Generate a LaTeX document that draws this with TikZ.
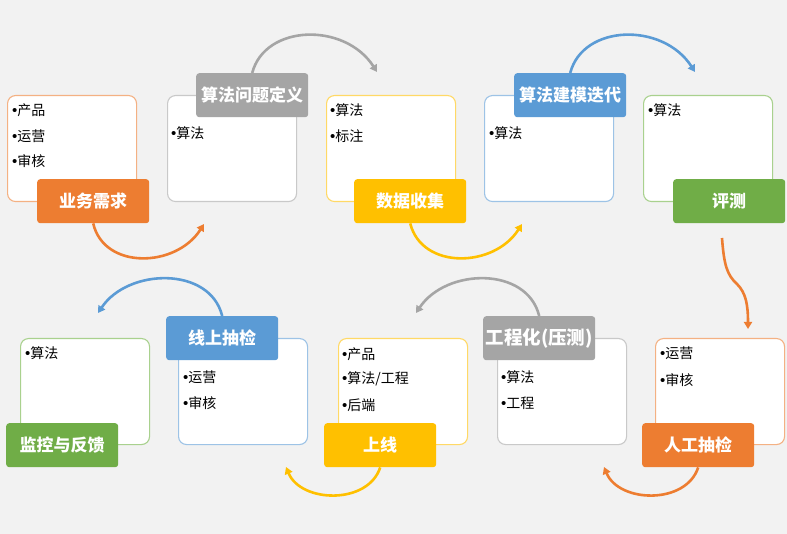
\documentclass[tikz,border=0pt]{standalone}
\usepackage{fontspec}
\setmainfont{Noto Sans CJK SC}
\newfontfamily\bul{Liberation Sans}
\usetikzlibrary{arrows.meta}
\definecolor{bg}{HTML}{F2F2F2}
\definecolor{cor}{HTML}{ED7D31}
\definecolor{cgr}{HTML}{A5A5A5}
\definecolor{cye}{HTML}{FFC000}
\definecolor{cbl}{HTML}{5B9BD5}
\definecolor{cgn}{HTML}{70AD47}
\definecolor{lor}{HTML}{F4B183}
\definecolor{lgr}{HTML}{C9C9C9}
\definecolor{lye}{HTML}{FFD966}
\definecolor{lbl}{HTML}{9DC3E6}
\definecolor{lgn}{HTML}{A9D18E}
\newcommand{\bt}{{\bul\fontsize{15}{15}\selectfont •}}
\tikzset{
  wbox/.style={draw=#1, line width=1.1pt, fill=white, rounded corners=8pt, minimum width=129pt, minimum height=106pt, anchor=north west, inner sep=0pt},
  lab/.style={fill=#1, rounded corners=3pt, minimum width=112pt, minimum height=44pt, anchor=north west, inner sep=0pt, text=white, font=\fontsize{17}{17}\selectfont\bfseries},
  item/.style={anchor=base west, inner sep=0pt, font=\fontsize{14}{14}\selectfont},
  arr/.style={draw=#1, line width=2.6pt, -{Triangle[length=7pt,width=8pt]}}
}
\begin{document}
\begin{tikzpicture}[x=1pt,y=-1pt]
\fill[bg] (0,0) rectangle (787,534);
\useasboundingbox (0,0) rectangle (787,534);
% top row boxes
\node[wbox=lor] (b1) at (7,95) {};
\node[wbox=lgr] (b2) at (167,95) {};
\node[wbox=lye] (b3) at (326,95) {};
\node[wbox=lbl] (b4) at (484,95) {};
\node[wbox=lgn] (b5) at (643,95) {};
% bottom row boxes
\node[wbox=lgn] (b10) at (20,338) {};
\node[wbox=lbl] (b9) at (178,338) {};
\node[wbox=lye] (b8) at (338,338) {};
\node[wbox=lgr] (b7) at (497,338) {};
\node[wbox=lor] (b6) at (655,338) {};
% items
\node[item] (t1a) at (12,116) {\bt 产品};
\node[item] (t1b) at (12,142) {\bt 运营};
\node[item] (t1c) at (12,167) {\bt 审核};
\node[item] (t2a) at (171,139) {\bt 算法};
\node[item] (t3a) at (330,116) {\bt 算法};
\node[item] (t3b) at (330,142) {\bt 标注};
\node[item] (t4a) at (489,139) {\bt 算法};
\node[item] (t5a) at (648,116) {\bt 算法};
\node[item] (t10a) at (25,359) {\bt 算法};
\node[item] (t9a) at (183,382) {\bt 运营};
\node[item] (t9b) at (183,408) {\bt 审核};
\node[item] (t8a) at (342,360) {\bt 产品};
\node[item] (t8b) at (342,384) {\bt 算法/工程};
\node[item] (t8c) at (342,410) {\bt 后端};
\node[item] (t7a) at (501,382) {\bt 算法};
\node[item] (t7b) at (501,408) {\bt 工程};
\node[item] (t6a) at (660,359) {\bt 运营};
\node[item] (t6b) at (660,385) {\bt 审核};
% labels
\node[lab=cor] (l1) at (37,179) {业务需求};
\node[lab=cgr] (l2) at (196,73) {算法问题定义};
\node[lab=cye] (l3) at (354,179) {数据收集};
\node[lab=cbl] (l4) at (514,73) {算法建模迭代};
\node[lab=cgn] (l5) at (673,179) {评测};
\node[lab=cor] (l6) at (642,423) {人工抽检};
\node[lab=cgr, font=\fontsize{18.5}{18.5}\selectfont\bfseries] (l7) at (483,316) {工程化(压测)};
\node[lab=cye] (l8) at (324,423) {上线};
\node[lab=cbl] (l9) at (166,316) {线上抽检};
\node[lab=cgn] (l10) at (6,423) {监控与反馈};
% arrow end points
\coordinate (e1) at (204,224);
\coordinate (e2) at (377,72);
\coordinate (e3) at (522,224);
\coordinate (e4) at (695,72);
\coordinate (s5) at (722,238);
\coordinate (e5) at (748,329);
\coordinate (e6) at (604,467);
\coordinate (e7) at (416,313);
\coordinate (e8) at (286,467);
\coordinate (e9) at (98,313);
% arrows
\draw[arr=cor] (l1.south) .. controls (104,270) and (176,268) .. (e1);
\draw[arr=cgr] (l2.north) .. controls (265,24) and (345,22) .. (e2);
\draw[arr=cye] (l3.south) .. controls (422,270) and (494,268) .. (e3);
\draw[arr=cbl] (l4.north) .. controls (583,24) and (663,22) .. (e4);
\draw[arr=cor] (s5) .. controls (724,265) and (727,275) .. (737,284) .. controls (746,293) and (748,305) .. (e5);
\draw[arr=cor] (l6.south) .. controls (686,505) and (619,503) .. (e6);
\draw[arr=cgr] (l7.north) .. controls (527,266) and (446,268) .. (e7);
\draw[arr=cye] (l8.south) .. controls (368,505) and (301,503) .. (e8);
\draw[arr=cbl] (l9.north) .. controls (210,266) and (128,268) .. (e9);
\end{tikzpicture}
\end{document}
